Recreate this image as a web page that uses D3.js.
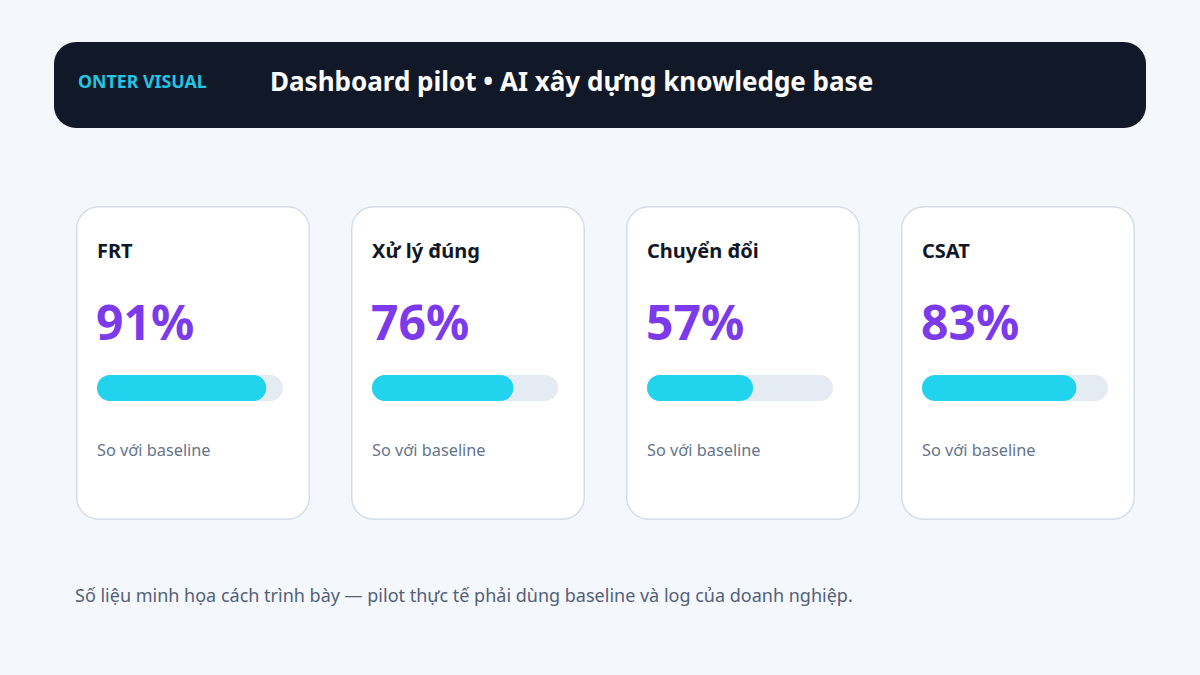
<!DOCTYPE html>
<html>
<head>
<meta charset="utf-8">
<script src="https://cdn.jsdelivr.net/npm/d3@7"></script>
<style>
  body { margin: 0; background: #f4f7fb; }
  svg { display: block; font-family: "Noto Sans", "Open Sans", sans-serif; }
</style>
</head>
<body>
<svg id="chart"></svg>
<script>
// metric cards
var labels = ["FRT", "Xử lý đúng", "Chuyển đổi", "CSAT"];
var values = [91, 76, 57, 83];
var subLabels = ["So với baseline", "So với baseline", "So với baseline", "So với baseline"];

var brand = "ONTER VISUAL";
var title = "Dashboard pilot • AI xây dựng knowledge base";
var footnote = "Số liệu minh họa cách trình bày — pilot thực tế phải dùng baseline và log của doanh nghiệp.";

var screen = {width: 1200, height: 675};

var svg = d3.select("#chart")
    .attr("width", screen.width)
    .attr("height", screen.height);

svg.append("rect")
    .attr("width", screen.width)
    .attr("height", screen.height)
    .attr("fill", "#f4f7fb");

// header band
svg.append("rect")
    .attr("x", 54).attr("y", 42)
    .attr("width", 1092).attr("height", 86)
    .attr("rx", 22)
    .attr("fill", "#111827");

svg.append("text")
    .attr("x", 78).attr("y", 88)
    .attr("font-size", 17.8).attr("font-weight", 700)
    .attr("fill", "#22c5e3")
    .text(brand);

svg.append("text")
    .attr("x", 270).attr("y", 91)
    .attr("font-size", 26).attr("font-weight", 700)
    .attr("fill", "#ffffff")
    .text(title);

// card positions from a band scale
var cardScale = d3.scaleBand()
    .domain(labels)
    .range([76, 1135])
    .paddingInner(41 / 275)
    .paddingOuter(0);

var cardW = cardScale.bandwidth(), cardTop = 206, cardH = 314;
var barW = 186;

var barScale = d3.scaleLinear()
    .domain([0, 100])
    .range([0, barW]);

var cards = svg.selectAll("g.card")
    .data(labels)
    .enter()
    .append("g")
    .attr("class", "card")
    .attr("transform", function(d) {
        return "translate(" + cardScale(d) + "," + cardTop + ")";
    });

cards.append("rect")
    .attr("x", 0.75).attr("y", 0.75)
    .attr("width", cardW - 1.5).attr("height", cardH - 1.5)
    .attr("rx", 22)
    .attr("fill", "#ffffff")
    .attr("stroke", "#d6dde7")
    .attr("stroke-width", 1.5);

cards.append("text")
    .attr("x", 21).attr("y", 52)
    .attr("font-size", 20).attr("font-weight", 700)
    .attr("fill", "#111827")
    .text(function(d) { return d; });

cards.append("text")
    .attr("x", 20).attr("y", 134)
    .attr("font-size", 48).attr("font-weight", 700)
    .attr("fill", "#7c3aed")
    .text(function(d, i) { return values[i] + "%"; });

cards.append("rect")
    .attr("x", 21).attr("y", 169)
    .attr("width", barScale(100)).attr("height", 26)
    .attr("rx", 13)
    .attr("fill", "#e5ebf2");

cards.append("rect")
    .attr("x", 21).attr("y", 169)
    .attr("width", function(d, i) { return barScale(values[i]); })
    .attr("height", 26)
    .attr("rx", 13)
    .attr("fill", "#22d3ee");

cards.append("text")
    .attr("x", 21).attr("y", 250)
    .attr("font-size", 16.3)
    .attr("fill", "#64748b")
    .text(function(d, i) { return subLabels[i]; });

svg.append("text")
    .attr("x", 75).attr("y", 602)
    .attr("font-size", 18)
    .attr("fill", "#526079")
    .text(footnote);
</script>
</body>
</html>
